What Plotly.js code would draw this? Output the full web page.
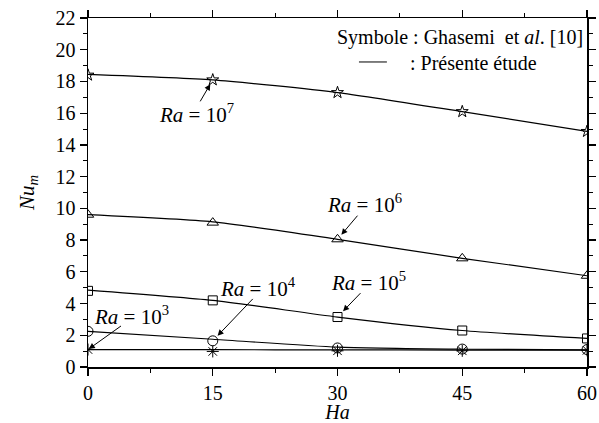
<!DOCTYPE html>
<html>
<head>
<meta charset="utf-8">
<script src="https://cdn.plot.ly/plotly-3.0.1.min.js"></script>
<style>
html,body{margin:0;padding:0;background:#fff;}
#chart{width:599px;height:423px;}
#chart svg text{font-family:'Liberation Serif' !important;}
</style>
</head>
<body>
<div id="chart"></div>
<script>
// Hartmann numbers
const ha = [0, 15, 30, 45, 60];
// Present study (solid lines)
const line_Ra1e7 = [18.45, 18.1, 17.3, 16.1, 14.85];
const line_Ra1e6 = [9.6, 9.15, 8.05, 6.85, 5.75];
const line_Ra1e5 = [4.85, 4.2, 3.15, 2.3, 1.8];
const line_Ra1e4 = [2.25, 1.75, 1.25, 1.12, 1.08];
const line_Ra1e3 = [1.1, 1.09, 1.08, 1.07, 1.07];
// Ghasemi et al. [10] (symbols)
const sym_Ra1e7 = [18.4, 18.1, 17.3, 16.1, 14.85];
const sym_Ra1e6 = [9.6, 9.1, 8.05, 6.85, 5.75];
const sym_Ra1e5 = [4.8, 4.2, 3.15, 2.3, 1.8];
const sym_Ra1e4 = [2.25, 1.65, 1.2, 1.13, 1.1];
const sym_Ra1e3 = [1.1, 0.98, 1.02, 1.02, 1.05];
const yTicks = [0,2,4,6,8,10,12,14,16,18,20,22];
const xTicks = [0,15,30,45,60];

const FONT = 'Liberation Serif';
const lines = [line_Ra1e7, line_Ra1e6, line_Ra1e5, line_Ra1e4, line_Ra1e3];
const syms = [sym_Ra1e7, sym_Ra1e6, sym_Ra1e5, sym_Ra1e4, sym_Ra1e3];
const symbols = ['star-open', 'triangle-up-open', 'square-open', 'circle-open', 'asterisk-open'];
const sizes = [9, 10, 9, 10, 10];

const traces = [];
lines.forEach(v => traces.push({x: ha, y: v, mode: 'lines', line: {color: '#000', width: 1.2, shape: 'spline', smoothing: 0.6}, showlegend: false, hoverinfo: 'skip'}));
syms.forEach((v, i) => traces.push({x: ha, y: v, mode: 'markers', marker: {symbol: symbols[i], size: sizes[i], color: '#000', line: {color: '#000', width: 1}}, showlegend: false}));

function raLabel(e) { return '<i>Ra</i> = 10<sup>' + e + '</sup>'; }

const arrows = [
  {x: 15, y: 18.1, ax: -14, ay: 24, s: 5},
  {x: 30, y: 8.05, ax: 22, ay: -26, s: 6},
  {x: 30, y: 3.15, ax: 25, ay: -26, s: 8},
  {x: 15, y: 1.65, ax: 42, ay: -44, s: 7},
  {x: 0, y: 1.1, ax: 35, ay: -25, s: 1}
];
const labels = [
  {x: 13.1, y: 16.0, e: 7},
  {x: 33.3, y: 10.3, e: 6},
  {x: 33.7, y: 5.4, e: 5},
  {x: 20.4, y: 5.0, e: 4},
  {x: 5.2, y: 3.25, e: 3}
];
const annotations = [];
arrows.forEach(a => annotations.push({x: a.x, y: a.y, xref: 'x', yref: 'y', text: ' ', showarrow: true, ax: a.ax, ay: a.ay, arrowhead: 2, arrowsize: 1.2, arrowwidth: 1, arrowcolor: '#000', standoff: a.s, font: {family: FONT, size: 2}}));
labels.forEach(l => annotations.push({x: l.x, y: l.y, xref: 'x', yref: 'y', text: raLabel(l.e), showarrow: false, font: {family: FONT, size: 21, color: '#000'}}));
annotations.push({x: 0.996, y: 0.943, xref: 'paper', yref: 'paper', xanchor: 'right', yanchor: 'middle', text: 'Symbole : Ghasemi  et <i>al</i>. [10]', showarrow: false, font: {family: FONT, size: 20, color: '#000'}});
annotations.push({x: 0.904, y: 0.871, xref: 'paper', yref: 'paper', xanchor: 'right', yanchor: 'middle', text: ': Présente étude', showarrow: false, font: {family: FONT, size: 20, color: '#000'}});

const layout = {
  width: 599, height: 423,
  margin: {l: 88, r: 12, t: 18, b: 56},
  paper_bgcolor: '#fff', plot_bgcolor: '#fff',
  font: {family: FONT, size: 20, color: '#000'},
  xaxis: {
    range: [0, 60], tickvals: xTicks, ticktext: xTicks.map(String),
    showgrid: false, zeroline: false, showline: true, linecolor: '#000', linewidth: 1.5,
    mirror: 'ticks', ticks: 'outside', ticklen: 7, tickwidth: 1.2, tickcolor: '#000',
    minor: {dtick: 7.5, tick0: 0, ticks: 'outside', ticklen: 4, tickwidth: 1, tickcolor: '#000', showgrid: false},
    tickfont: {family: FONT, size: 20},
    title: {text: '<i>Ha</i>', font: {family: FONT, size: 20}, standoff: 1}
  },
  yaxis: {
    range: [0, 22], tickvals: yTicks, ticktext: yTicks.map(String),
    showgrid: false, zeroline: false, showline: true, linecolor: '#000', linewidth: 1.5,
    mirror: 'ticks', ticks: 'outside', ticklen: 7, tickwidth: 1.2, tickcolor: '#000',
    minor: {dtick: 1, tick0: 0, ticks: 'outside', ticklen: 4, tickwidth: 1, tickcolor: '#000', showgrid: false},
    tickfont: {family: FONT, size: 20},
    title: {text: '<i>Nu</i><sub><i>m</i></sub>', font: {family: FONT, size: 21}, standoff: 15}
  },
  shapes: [{type: 'line', xref: 'paper', yref: 'paper', x0: 0.543, x1: 0.599, y0: 0.874, y1: 0.874, line: {color: '#000', width: 1}}],
  annotations: annotations
};
Plotly.newPlot('chart', traces, layout, {staticPlot: true, displayModeBar: false});
</script>
</body>
</html>
